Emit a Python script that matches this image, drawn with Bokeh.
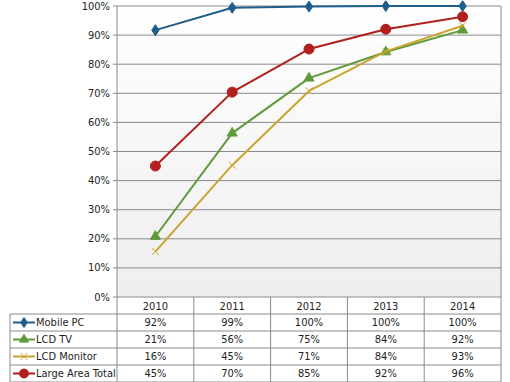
import numpy as np
from bokeh.plotting import figure
from bokeh.models import Range1d, ColumnDataSource
from bokeh.embed import file_html
from bokeh.resources import INLINE
from bokeh.core.properties import value

# ---------------- data ----------------
years = ["2010", "2011", "2012", "2013", "2014"]
series_names = ["Mobile PC", "LCD TV", "LCD Monitor", "Large Area Total"]
mobile_pc = [91.7, 99.4, 99.8, 100.0, 100.0]
lcd_tv = [20.8, 56.3, 75.2, 84.2, 91.7]
lcd_monitor = [15.6, 45.3, 70.8, 84.4, 93.2]
large_area_total = [45.0, 70.4, 85.2, 92.0, 96.3]
y_ticks = [0, 10, 20, 30, 40, 50, 60, 70, 80, 90, 100]
y_tick_labels = ["0%", "10%", "20%", "30%", "40%", "50%", "60%", "70%", "80%", "90%", "100%"]

series_values = [mobile_pc, lcd_tv, lcd_monitor, large_area_total]
colors = ["#1f5d8a", "#5e9a3a", "#c9a530", "#b21f1f"]
markers = ["diamond", "triangle", "x", "circle"]
msizes = [11, 10, 10, 10]

FONT = value("DejaVu Sans Condensed")
FS = "11px"
TXT = "#1e1e1e"
GRID = "#8a8a8a"

W, H = 510, 382
PXC = 76.8            # px per category
AXIS_PX = 116.5       # internal x of value axis
TOP_PX = 5.5          # internal y of 100%
ZERO_PX = 296.5       # internal y of 0%
ROW_PX = 17.0
PXY = (ZERO_PX - TOP_PX) / 100.0

x0 = -AXIS_PX / PXC
x1 = x0 + W / PXC
y1 = 100 + TOP_PX / PXY
y0 = -(H - ZERO_PX) / PXY
h = ROW_PX / PXY
n = len(years)
xs = [i + 0.5 for i in range(n)]
x_left = (9.5 - AXIS_PX) / PXC
y_bottom = -5 * h

p = figure(width=W, height=H, x_range=Range1d(x0, x1), y_range=Range1d(y0, y1),
           output_backend="svg", toolbar_location=None, min_border=0,
           x_axis_location=None, y_axis_location=None, outline_line_color=None,
           background_fill_color="white", border_fill_color="white")
p.grid.visible = False

# plot-area gradient background
g = np.linspace(239, 255, 64).astype(np.uint8)
img = np.zeros((64, 1), dtype=np.uint32)
view = img.view(dtype=np.uint8).reshape((64, 1, 4))
view[:, 0, 0] = g
view[:, 0, 1] = g
view[:, 0, 2] = g
view[:, 0, 3] = 255
p.image_rgba(image=[img], x=0, y=0, dw=n, dh=100)

# gridlines
gl = y_ticks[1:]
p.segment(x0=[0] * len(gl), y0=gl, x1=[n] * len(gl), y1=gl, line_color=GRID, line_width=1)
# tick marks
tk = 4 / PXC
p.segment(x0=[-tk] * len(y_ticks), y0=y_ticks, x1=[0] * len(y_ticks), y1=y_ticks,
          line_color=GRID, line_width=1)
# value axis and right border
p.segment(x0=[0, n], y0=[100, 100], x1=[0, n], y1=[y_bottom, y_bottom], line_color=GRID, line_width=1)
# table column lines
p.segment(x0=list(range(1, n)), y0=[0] * (n - 1), x1=list(range(1, n)), y1=[y_bottom] * (n - 1),
          line_color=GRID, line_width=1)
# table top (0%) line
p.segment(x0=[0], y0=[0], x1=[n], y1=[0], line_color=GRID, line_width=1)
# table row lines
rows = [-(k + 1) * h for k in range(5)]
p.segment(x0=[x_left] * 5, y0=rows, x1=[n] * 5, y1=rows, line_color=GRID, line_width=1)
p.segment(x0=[x_left], y0=[-h], x1=[x_left], y1=[y_bottom], line_color=GRID, line_width=1)

# y tick labels
p.text(x=[-7 / PXC] * len(y_ticks), y=y_ticks, text=y_tick_labels, text_align="right",
       text_baseline="middle", text_font=FONT, text_font_size=FS, text_color=TXT)

# header years
p.text(x=xs, y=[-h / 2] * n, text=years, text_align="center", text_baseline="middle",
       text_font=FONT, text_font_size=FS, text_color=TXT)

# series lines & markers & table rows
kx0 = (12.5 - AXIS_PX) / PXC
kx1 = (34.5 - AXIS_PX) / PXC
kxm = (kx0 + kx1) / 2
tx = (35.5 - AXIS_PX) / PXC
for k, (name, vals, c, m, s) in enumerate(zip(series_names, series_values, colors, markers, msizes)):
    src = ColumnDataSource(dict(x=xs, y=vals))
    p.line("x", "y", source=src, line_color=c, line_width=2)
    if m == "x":
        p.scatter("x", "y", source=src, marker=m, size=s, line_color=c, line_width=1)
    else:
        p.scatter("x", "y", source=src, marker=m, size=s, fill_color=c, line_color=c)
    yc = -(k + 1.5) * h
    p.line([kx0, kx1], [yc, yc], line_color=c, line_width=2)
    if m == "x":
        p.scatter([kxm], [yc], marker=m, size=s, line_color=c, line_width=1)
    else:
        p.scatter([kxm], [yc], marker=m, size=s - 1, fill_color=c, line_color=c)
    p.text(x=[tx], y=[yc], text=[name], text_align="left", text_baseline="middle",
           text_font=FONT, text_font_size=FS, text_color=TXT)
    p.text(x=xs, y=[yc] * n, text=[f"{round(v)}%" for v in vals], text_align="center",
           text_baseline="middle", text_font=FONT, text_font_size=FS, text_color=TXT)

open("out.html", "w").write(file_html(p, INLINE))
